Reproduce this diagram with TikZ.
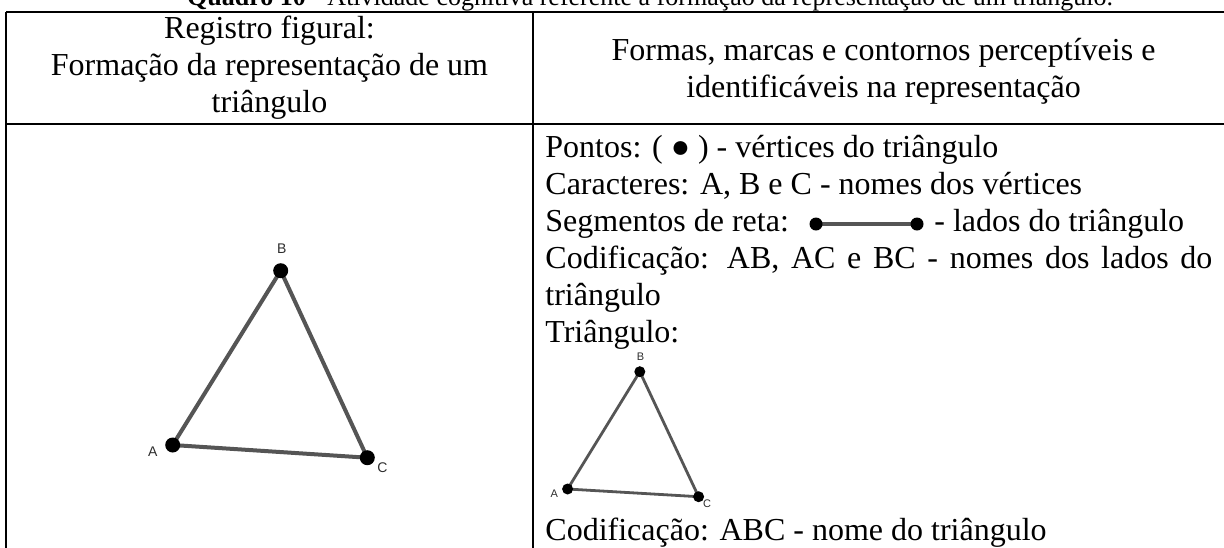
\documentclass[tikz,border=0pt]{standalone}
\usepackage{fontspec}
\setmainfont{Liberation Serif}
\newfontfamily\geofont{Liberation Sans}
\usepackage{tikz}
\definecolor{segcol}{RGB}{85,85,85}
\definecolor{lblcol}{RGB}{45,45,45}
\tikzset{
  txt/.style={anchor=base west,inner sep=0pt,font=\fontsize{16}{18.5}\selectfont},
  hdr/.style={anchor=base,inner sep=0pt,font=\fontsize{16}{18.5}\selectfont},
  rule/.style={line width=1.3pt},
  bigside/.style={segcol,line width=2pt},
  smallside/.style={segcol,line width=1.4pt},
  bigdot/.style={circle,fill=black,inner sep=0pt,minimum size=7.5pt},
  smalldot/.style={circle,fill=black,inner sep=0pt,minimum size=5.5pt},
  segdot/.style={circle,fill=black,inner sep=0pt,minimum size=6.5pt},
  biglbl/.style={inner sep=0pt,text=lblcol,font=\geofont\fontsize{7}{8}\selectfont},
  smalllbl/.style={inner sep=0pt,text=lblcol,font=\geofont\fontsize{5.5}{6}\selectfont},
}
\begin{document}
\begin{tikzpicture}[x=0.5pt,y=0.5pt,yscale=-1,xscale=1]
\useasboundingbox (0,0) rectangle (1224,547);
% legenda
\draw (650,5) node (cap) [anchor=base] [inner sep=0pt] {\fontsize{13}{16}\selectfont\textbf{Quadro 10} - Atividade cognitiva referente à formação da representação de um triângulo.};
% quadro
\draw [rule] (6,12) -- (1240,12) ;
\draw [rule] (6,124) -- (1240,124) ;
\draw [rule] (6,12) -- (6,560) ;
\draw [rule] (533,12) -- (533,560) ;
% cabecalho
\draw (269.5,38) node (reg1) [hdr] {Registro figural:};
\draw (269.5,75) node (reg2) [hdr] {Formação da representação de um};
\draw (269.5,112) node (reg3) [hdr] {triângulo};
\draw (883.5,60) node (form1) [hdr] {Formas, marcas e contornos perceptíveis e};
\draw (883.5,97) node (form2) [hdr] {identificáveis na representação};
% triangulo grande
\coordinate (A) at (172.7,445) ;
\coordinate (B) at (280.7,270.7) ;
\coordinate (C) at (367.3,457.7) ;
\draw [bigside] (A) -- (B) -- (C) -- cycle ;
\node (dA) [bigdot] at (A) {};
\node (dB) [bigdot] at (B) {};
\node (dC) [bigdot] at (C) {};
\draw (281.7,248.3) node (lB) [biglbl] {B};
\draw (152.7,451.7) node (lA) [biglbl] {A};
\draw (382.3,467.3) node (lC) [biglbl] {C};
% coluna da direita
\draw (545,157) node (pontos) [txt] {Pontos: ( ● ) - vértices do triângulo};
\draw (545,194) node (carac) [txt] {Caracteres: A, B e C - nomes dos vértices};
\draw (545,231) node (segm) [txt] {Segmentos de reta:};
\coordinate (s1) at (816,224) ;
\coordinate (s2) at (917,224) ;
\draw [bigside] (s1) -- (s2) ;
\node (ds1) [segdot] at (s1) {};
\node (ds2) [segdot] at (s2) {};
\draw (934,231) node (lados) [txt] {- lados do triângulo};
\draw (545,268) node (codif1) [txt] {\makebox[333.5pt][s]{Codificação: AB, AC e BC - nomes dos lados do}};
\draw (545,305) node (codif2) [txt] {triângulo};
\draw (545,342) node (triang) [txt] {Triângulo:};
% triangulo pequeno
\coordinate (a) at (567.6,489) ;
\coordinate (b) at (639.8,371.7) ;
\coordinate (c) at (698.6,496.7) ;
\draw [smallside] (a) -- (b) -- (c) -- cycle ;
\node (da) [smalldot] at (a) {};
\node (db) [smalldot] at (b) {};
\node (dc) [smalldot] at (c) {};
\draw (640.6,356.7) node (lb) [smalllbl] {B};
\draw (554.3,494) node (la) [smalllbl] {A};
\draw (707,504) node (lc) [smalllbl] {C};
\draw (545,540) node (codif3) [txt] {Codificação: ABC - nome do triângulo};
\end{tikzpicture}
\end{document}
